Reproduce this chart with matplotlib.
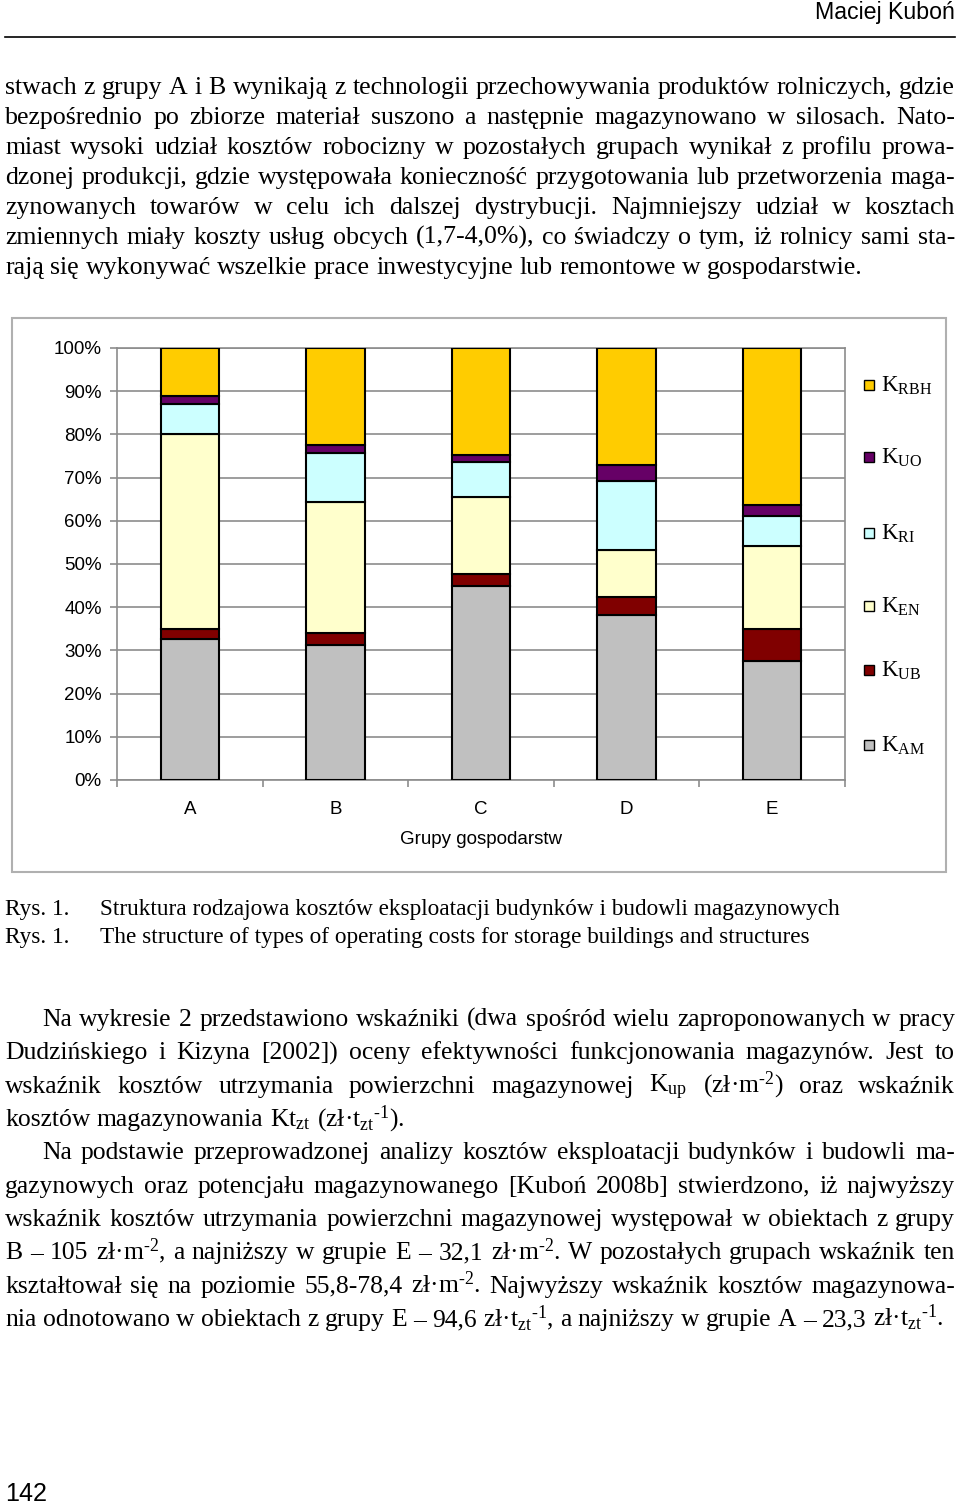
import matplotlib
matplotlib.use('Agg')
import matplotlib.pyplot as plt
from matplotlib.patches import Rectangle
import numpy as np

plt.rcParams['font.family'] = ['Liberation Sans', 'DejaVu Sans']
plt.rcParams['mathtext.fontset'] = 'custom'
plt.rcParams['mathtext.rm'] = 'Liberation Serif'
plt.rcParams['mathtext.it'] = 'Liberation Serif:italic'
plt.rcParams['mathtext.bf'] = 'Liberation Serif:bold'

# ---------------- data ----------------
groups = ['A', 'B', 'C', 'D', 'E']
k_am = [32.6, 31.2, 44.8, 38.2, 27.5]
k_ub = [2.4, 2.8, 3.0, 4.1, 7.5]
k_en = [45.2, 30.3, 17.8, 10.9, 19.2]
k_ri = [6.8, 11.5, 7.9, 16.0, 7.0]
k_uo = [1.9, 1.7, 1.7, 3.7, 2.5]
k_rbh = [11.1, 22.5, 24.8, 27.1, 36.3]
series_names = ['AM', 'UB', 'EN', 'RI', 'UO', 'RBH']
series_colors = ['#C0C0C0', '#800000', '#FFFFCC', '#CCFFFF', '#660066', '#FFCC00']
y_ticks = [0, 10, 20, 30, 40, 50, 60, 70, 80, 90, 100]
y_ticklabels = ['0%', '10%', '20%', '30%', '40%', '50%', '60%', '70%', '80%', '90%', '100%']
x_title = 'Grupy gospodarstw'

M2 = r'm$^{\text{-2}}$'
TZT = r't$_{\mathrm{zt}}$$^{\text{-1}}$'

header = 'Maciej Kuboń'
page_no = '142'
para1 = [
    'stwach z grupy A i B wynikają z technologii przechowywania produktów rolniczych, gdzie',
    'bezpośrednio po zbiorze materiał suszono a następnie magazynowano w silosach. Nato-',
    'miast wysoki udział kosztów robocizny w pozostałych grupach wynikał z profilu prowa-',
    'dzonej produkcji, gdzie występowała konieczność przygotowania lub przetworzenia maga-',
    'zynowanych towarów w celu ich dalszej dystrybucji. Najmniejszy udział w kosztach',
    'zmiennych miały koszty usług obcych (1,7-4,0%), co świadczy o tym, iż rolnicy sami sta-',
    'rają się wykonywać wszelkie prace inwestycyjne lub remontowe w gospodarstwie.',
]
caption = [
    ('Rys. 1.', 'Struktura rodzajowa kosztów eksploatacji budynków i budowli magazynowych'),
    ('Rys. 1.', 'The structure of types of operating costs for storage buildings and structures'),
]
para2 = [
    'Na wykresie 2 przedstawiono wskaźniki (dwa spośród wielu zaproponowanych w pracy',
    'Dudzińskiego i Kizyna [2002]) oceny efektywności funkcjonowania magazynów. Jest to',
    'wskaźnik kosztów utrzymania powierzchni magazynowej K$_{\\mathrm{up}}$ (zł·' + M2 + ') oraz wskaźnik',
    'kosztów magazynowania Kt$_{\\mathrm{zt}}$ (zł·' + TZT + ').',
    'Na podstawie przeprowadzonej analizy kosztów eksploatacji budynków i budowli ma-',
    'gazynowych oraz potencjału magazynowanego [Kuboń 2008b] stwierdzono, iż najwyższy',
    'wskaźnik kosztów utrzymania powierzchni magazynowej występował w obiektach z grupy',
    'B – 105 zł·' + M2 + ', a najniższy w grupie E – 32,1 zł·' + M2 + '. W pozostałych grupach wskaźnik ten',
    'kształtował się na poziomie 55,8-78,4 zł·' + M2 + '. Najwyższy wskaźnik kosztów magazynowa-',
    'nia odnotowano w obiektach z grupy E – 94,6 zł·' + TZT + ', a najniższy w grupie A – 23,3 zł·' + TZT + '.',
]
para2_indent = [True, False, False, False, True, False, False, False, False, False]
para2_justify = [True, True, True, False, True, True, True, True, True, False]

W, H = 960, 1504
fig = plt.figure(figsize=(W / 100, H / 100), dpi=100)
page = fig.add_axes([0, 0, 1, 1])
page.set_xlim(0, W)
page.set_ylim(H, 0)
page.axis('off')
renderer = fig.canvas.get_renderer()


def width(s, **kw):
    t = page.text(0, 0, s, **kw)
    w = t.get_window_extent(renderer).width
    t.remove()
    return w


def fit_size(s, target, **kw):
    return 20 * target / width(s, fontsize=20, **kw)


def put_line(s, x0, x1, y, justify, **kw):
    words = s.split(' ')
    ws = [width(w, **kw) for w in words]
    if justify and len(words) > 1:
        gap = (x1 - x0 - sum(ws)) / (len(words) - 1)
    else:
        gap = width('a a', **kw) - width('aa', **kw)
    x = x0
    for w, wd in zip(words, ws):
        page.text(x, y, w, ha='left', va='baseline', **kw)
        x += wd + gap


serif = dict(family=['Liberation Serif', 'DejaVu Serif'], color='black')
sans = dict(family=['Liberation Sans', 'DejaVu Sans'], color='black')

# header
hs = fit_size(header, 140, **sans)
page.text(955, 19, header, ha='right', va='baseline', fontsize=hs, **sans)
page.plot([5, 955], [37, 37], color='black', lw=1.2)

# paragraph 1
s1 = fit_size(para1[-1], 857, **serif)
for i, line in enumerate(para1):
    put_line(line, 5, 955, 94 + 30 * i, i < len(para1) - 1, fontsize=s1, **serif)

# caption
sc = fit_size(caption[0][1], 740, **serif)
for i, (a, b) in enumerate(caption):
    y = 915 + 28 * i
    page.text(5, y, a, ha='left', va='baseline', fontsize=sc, **serif)
    page.text(100, y, b, ha='left', va='baseline', fontsize=sc, **serif)

# paragraph 2
s2 = fit_size(para2[-1], 936, **serif)
for i, line in enumerate(para2):
    x0 = 42 if para2_indent[i] else 5
    put_line(line, x0, 955, 1026 + 33.35 * i, para2_justify[i], fontsize=s2, **serif)

# page number
ps = fit_size(page_no, 42, **sans)
page.text(5, 1501, page_no, ha='left', va='baseline', fontsize=ps, **sans)

# ---------------- chart ----------------
page.add_patch(Rectangle((12, 318), 934, 554, fill=False, edgecolor='#b0b0b0', lw=1.5))

ax = fig.add_axes([117 / W, 1 - 780 / H, 728 / W, 432 / H])
x = np.arange(len(groups))
series = [k_am, k_ub, k_en, k_ri, k_uo, k_rbh]
bottom = np.zeros(len(groups))
for vals, col in zip(series, series_colors):
    ax.bar(x, vals, 0.4, bottom=bottom, color=col, edgecolor='black', linewidth=1.5, zorder=3)
    bottom += np.array(vals)
ax.set_xlim(-0.5, len(groups) - 0.5)
ax.set_ylim(0, 100)
ax.set_yticks(y_ticks)
ax.set_yticklabels(y_ticklabels)
ax.yaxis.grid(True, color='#8c8c8c', lw=1.2)
ax.set_axisbelow(True)
ax.set_xticks(x)
ax.set_xticklabels(groups)
ax.set_xticks(np.arange(-0.5, len(groups), 1), minor=True)
ax.tick_params(axis='x', which='major', length=0, pad=15, labelsize=13.5)
ax.tick_params(axis='x', which='minor', length=5, width=1.2, color='#8c8c8c', direction='out')
ax.tick_params(axis='y', length=5, width=1.2, color='#8c8c8c', pad=6, labelsize=13.5)
for sp in ax.spines.values():
    sp.set_color('#8c8c8c')
    sp.set_linewidth(1.2)
ax.set_facecolor('none')

page.text(481, 840, x_title, ha='center', va='center', fontsize=13.5, **sans)

# legend (top to bottom: reverse stacking order)
leg_y = [385, 457, 533, 606, 670, 745]
for yc, name, col in zip(leg_y, series_names[::-1], series_colors[::-1]):
    page.add_patch(Rectangle((864, yc - 5), 10, 10, facecolor=col, edgecolor='black', lw=1))
    page.text(881, yc + 7, r'K$_{\mathrm{%s}}$' % name, ha='left', va='baseline',
              fontsize=16.5, **serif)

fig.savefig('out.png', dpi=100)
